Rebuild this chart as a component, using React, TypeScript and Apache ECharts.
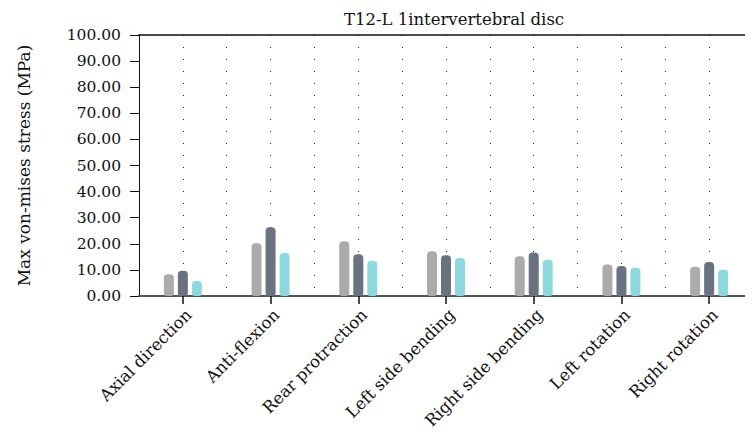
import React, { useEffect, useRef } from "react";
import * as echarts from "echarts";

const categories = [
  "Axial direction",
  "Anti-flexion",
  "Rear protraction",
  "Left side bending",
  "Right side bending",
  "Left rotation",
  "Right rotation",
];
const seriesA = [8.3, 20.2, 21.0, 17.1, 15.2, 12.1, 11.2];
const seriesB = [9.7, 26.3, 16.0, 15.6, 16.7, 11.5, 13.0];
const seriesC = [5.7, 16.5, 13.5, 14.6, 13.9, 10.8, 10.1];
const yTicks = { min: 0, max: 100, interval: 10 };
const titleText = "T12-L 1intervertebral disc";
const yName = "Max von-mises stress (MPa)";

const FONT = "DejaVu Serif";

export default function App() {
  const ref = useRef<HTMLDivElement>(null);
  useEffect(() => {
    if (!ref.current) return;
    const chart = echarts.init(ref.current, null, { renderer: "svg" });
    const bar = (name: string, data: number[], color: string) => ({
      name,
      type: "bar",
      data,
      xAxisIndex: 0,
      barWidth: 10,
      barGap: "40%",
      itemStyle: { color, borderRadius: [4, 4, 3, 3] },
    });
    chart.setOption({
      animation: false,
      title: {
        text: titleText,
        left: 449,
        textAlign: "center",
        top: 6,
        textStyle: { fontFamily: FONT, fontSize: 16.5, fontWeight: "normal", color: "#111" },
      },
      grid: { left: 139, top: 35, bottom: 140, right: -9, containLabel: false },
      xAxis: [
        {
          type: "category",
          data: categories,
          position: "bottom",
          axisLine: { show: true, lineStyle: { color: "#555", width: 2 } },
          axisTick: { show: true, alignWithLabel: true, length: 8, lineStyle: { color: "#111", width: 1.5 } },
          axisLabel: {
            rotate: 45,
            margin: 10,
            verticalAlign: "top",
            fontFamily: FONT,
            fontSize: 16.5,
            color: "#111",
          },
          splitLine: { show: false },
        },
        {
          type: "value",
          position: "top",
          min: 0,
          max: 14,
          interval: 1,
          axisLine: { show: true, onZero: false, lineStyle: { color: "#111", width: 1.5 } },
          axisTick: { show: false },
          axisLabel: { show: false },
          splitLine: { show: true, lineStyle: { color: "#222", width: 1, type: [1, 11] } },
        },
      ],
      yAxis: {
        type: "value",
        min: yTicks.min,
        max: yTicks.max,
        interval: yTicks.interval,
        name: yName,
        nameLocation: "middle",
        nameGap: 107,
        nameTextStyle: { fontFamily: FONT, fontSize: 17, color: "#111" },
        axisLine: { show: true, lineStyle: { color: "#111", width: 1 } },
        axisTick: { show: true, length: 9, lineStyle: { color: "#111", width: 1 } },
        axisLabel: {
          margin: 18,
          fontFamily: FONT,
          fontSize: 15.5,
          color: "#111",
          formatter: (v: number) => v.toFixed(2),
        },
        splitLine: { show: false },
      },
      series: [
        bar("A", seriesA, "#ababab"),
        bar("B", seriesB, "#6a7180"),
        bar("C", seriesC, "#8ed9de"),
      ],
    });
    return () => chart.dispose();
  }, []);
  return <div ref={ref} style={{ width: 753, height: 436, margin: -8 }} />;
}
